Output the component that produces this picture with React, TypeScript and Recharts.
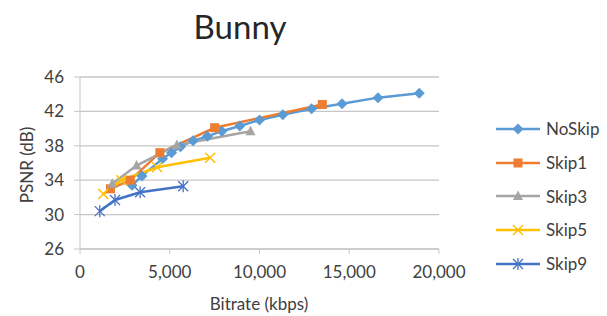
import { CartesianGrid, Line, LineChart, XAxis, YAxis } from "recharts";

const seriesNames = ["NoSkip", "Skip1", "Skip3", "Skip5", "Skip9"];
const seriesColors = ["#5B9BD5", "#ED7D31", "#A5A5A5", "#FFC000", "#4472C4"];

// bitrate (kbps) / PSNR (dB) per series
const noSkipRate = [2900, 3450, 4600, 5100, 5600, 6300, 7100, 7900, 8900, 10000, 11300, 12900, 14600, 16600, 18900];
const noSkipPsnr = [33.4, 34.5, 36.5, 37.2, 37.9, 38.6, 39.1, 39.7, 40.3, 41.0, 41.6, 42.3, 42.9, 43.6, 44.1];
const skip1Rate = [1700, 2800, 4450, 7500, 13500];
const skip1Psnr = [33.0, 34.0, 37.2, 40.1, 42.8];
const skip3Rate = [1800, 3150, 5400, 9500];
const skip3Psnr = [33.6, 35.7, 38.1, 39.7];
const skip5Rate = [1300, 2300, 4300, 7250];
const skip5Psnr = [32.4, 34.0, 35.5, 36.6];
const skip9Rate = [1100, 1950, 3350, 5750];
const skip9Psnr = [30.4, 31.7, 32.6, 33.3];

const xTicks = [0, 5000, 10000, 15000, 20000];
const yTicks = [26, 30, 34, 38, 42, 46];

const rates = [noSkipRate, skip1Rate, skip3Rate, skip5Rate, skip9Rate];
const psnrs = [noSkipPsnr, skip1Psnr, skip3Psnr, skip5Psnr, skip9Psnr];

const series = seriesNames.map((name, i) => ({
  name,
  color: seriesColors[i],
  data: rates[i].map((r, j) => ({ rate: r, psnr: psnrs[i][j] })),
}));

const FONT = "Lato, 'Open Sans', sans-serif";
const TEXT = "#404040";
const GRID = "#c6c6c6";

const Marker = ({ kind, cx, cy, color }: any) => {
  if (kind === 0)
    return <polygon points={`${cx},${cy - 5.5} ${cx + 5.5},${cy} ${cx},${cy + 5.5} ${cx - 5.5},${cy}`} fill={color} />;
  if (kind === 1) return <rect x={cx - 4.5} y={cy - 4.5} width={9} height={9} fill={color} />;
  if (kind === 2)
    return <polygon points={`${cx},${cy - 5.5} ${cx + 5},${cy + 4} ${cx - 5},${cy + 4}`} fill={color} />;
  if (kind === 3)
    return (
      <g stroke={color} strokeWidth={1.5}>
        <line x1={cx - 5} y1={cy - 5} x2={cx + 5} y2={cy + 5} />
        <line x1={cx - 5} y1={cy + 5} x2={cx + 5} y2={cy - 5} />
      </g>
    );
  return (
    <g stroke={color} strokeWidth={1.3}>
      <line x1={cx - 5} y1={cy - 5} x2={cx + 5} y2={cy + 5} />
      <line x1={cx - 5} y1={cy + 5} x2={cx + 5} y2={cy - 5} />
      <line x1={cx} y1={cy - 6} x2={cx} y2={cy + 6} />
    </g>
  );
};

const fmt = (v: number) => v.toLocaleString("en-US");

export default function App() {
  return (
    <div style={{ position: "absolute", left: 0, top: 0, width: 607, height: 316, background: "#fff", fontFamily: FONT }}>
      <div style={{ position: "absolute", left: 0, width: 480, top: 6, textAlign: "center", fontSize: 33, color: "#262626" }}>
        Bunny
      </div>
      <div
        style={{
          position: "absolute",
          left: 26,
          top: 165,
          transform: "translate(-50%, -50%) rotate(-90deg)",
          fontSize: 17,
          color: TEXT,
          whiteSpace: "nowrap",
        }}
      >
        PSNR (dB)
      </div>
      <div style={{ position: "absolute", left: 159, width: 200, top: 293, textAlign: "center", fontSize: 17, color: TEXT }}>
        Bitrate (kbps)
      </div>
      <LineChart width={607} height={316} margin={{ top: 77, right: 168, bottom: 37, left: 0 }}>
        <CartesianGrid horizontal vertical={false} stroke={GRID} strokeWidth={1.3} />
        <XAxis
          type="number"
          dataKey="rate"
          domain={[0, 20000]}
          ticks={xTicks}
          tickFormatter={fmt}
          height={30}
          stroke={GRID}
          tickSize={5}
          tickMargin={12}
          tick={{ fill: TEXT, fontSize: 17, fontFamily: FONT }}
          allowDuplicatedCategory={false}
        />
        <YAxis
          type="number"
          dataKey="psnr"
          domain={[26, 46]}
          ticks={yTicks}
          width={80}
          stroke={GRID}
          tickSize={6}
          tickMargin={10}
          tick={{ fill: TEXT, fontSize: 17, fontFamily: FONT }}
        />
        {series.map((s, i) => (
          <Line
            key={s.name}
            data={s.data}
            dataKey="psnr"
            name={s.name}
            type="linear"
            stroke={s.color}
            strokeWidth={2.5}
            isAnimationActive={false}
            dot={(p: any) => <Marker key={`${s.name}-${p.index}`} kind={i} cx={p.cx} cy={p.cy} color={s.color} />}
            activeDot={false}
          />
        ))}
      </LineChart>
      <div style={{ position: "absolute", left: 496, top: 112 }}>
        {series.map((s, i) => (
          <div key={s.name} style={{ display: "flex", alignItems: "center", height: 33.7 }}>
            <svg width={46} height={14}>
              <line x1={0} y1={7} x2={44} y2={7} stroke={s.color} strokeWidth={2.5} />
              <Marker kind={i} cx={22} cy={7} color={s.color} />
            </svg>
            <span style={{ fontSize: 17, color: TEXT, marginLeft: 4 }}>{s.name}</span>
          </div>
        ))}
      </div>
    </div>
  );
}
